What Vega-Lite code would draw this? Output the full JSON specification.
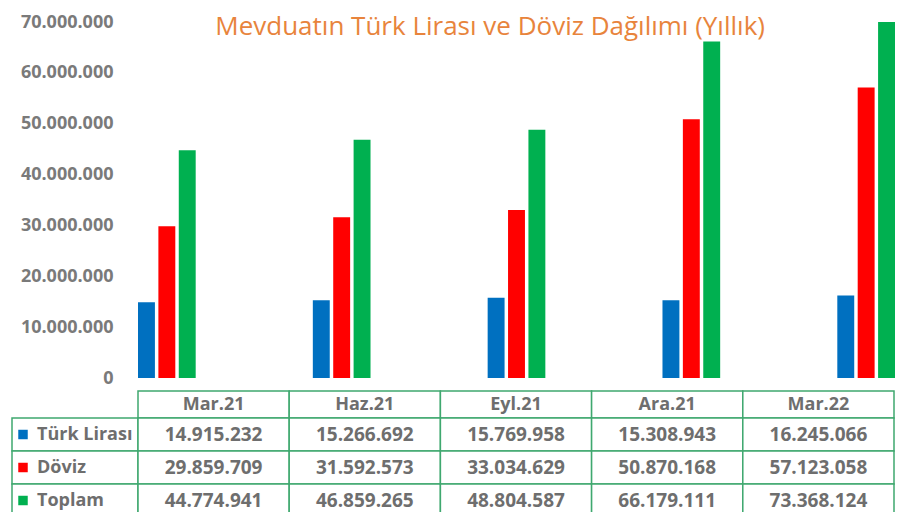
{
  "$schema": "https://vega.github.io/schema/vega-lite/v6.json",
  "padding": {"left": 11, "top": 13, "right": 0, "bottom": 0},
  "config": {
    "locale": {"number": {"decimal": ",", "thousands": ".", "grouping": [3], "currency": ["", " TL"]}},
    "view": {"stroke": null},
    "font": "Open Sans"
  },
  "title": {
    "text": "Mevduatın Türk Lirası ve Döviz Dağılımı (Yıllık)",
    "anchor": "middle",
    "offset": -27,
    "dx": 37,
    "fontSize": 26,
    "fontWeight": "normal",
    "font": "Open Sans",
    "color": "#e8843c"
  },
  "datasets": {
    "deposits": [
      {"donem": "Mar.21", "tur": "Türk Lirası", "deger": 14915232},
      {"donem": "Mar.21", "tur": "Döviz", "deger": 29859709},
      {"donem": "Mar.21", "tur": "Toplam", "deger": 44774941},
      {"donem": "Haz.21", "tur": "Türk Lirası", "deger": 15266692},
      {"donem": "Haz.21", "tur": "Döviz", "deger": 31592573},
      {"donem": "Haz.21", "tur": "Toplam", "deger": 46859265},
      {"donem": "Eyl.21", "tur": "Türk Lirası", "deger": 15769958},
      {"donem": "Eyl.21", "tur": "Döviz", "deger": 33034629},
      {"donem": "Eyl.21", "tur": "Toplam", "deger": 48804587},
      {"donem": "Ara.21", "tur": "Türk Lirası", "deger": 15308943},
      {"donem": "Ara.21", "tur": "Döviz", "deger": 50870168},
      {"donem": "Ara.21", "tur": "Toplam", "deger": 66179111},
      {"donem": "Mar.22", "tur": "Türk Lirası", "deger": 16245066},
      {"donem": "Mar.22", "tur": "Döviz", "deger": 57123058},
      {"donem": "Mar.22", "tur": "Toplam", "deger": 73368124}
    ],
    "spacer": [{"bos": ""}]
  },
  "bounds": "flush",
  "columns": 2,
  "spacing": {"row": 0, "column": 0},
  "concat": [
    {
      "width": 126,
      "height": 369,
      "data": {"name": "spacer"},
      "mark": {"type": "text"},
      "encoding": {"text": {"field": "bos"}}
    },
    {
      "width": 757,
      "height": 356,
      "data": {"name": "deposits"},
      "mark": {"type": "bar", "clip": true},
      "encoding": {
        "x": {
          "field": "donem",
          "type": "nominal",
          "sort": ["Mar.21", "Haz.21", "Eyl.21", "Ara.21", "Mar.22"],
          "scale": {"paddingInner": 0.67, "paddingOuter": 0},
          "axis": null
        },
        "xOffset": {
          "field": "tur",
          "type": "nominal",
          "sort": ["Türk Lirası", "Döviz", "Toplam"],
          "scale": {"paddingInner": 0.17, "paddingOuter": 0}
        },
        "y": {
          "field": "deger",
          "type": "quantitative",
          "scale": {"domain": [0, 70000000], "nice": false},
          "axis": {
            "title": null,
            "values": [0, 10000000, 20000000, 30000000, 40000000, 50000000, 60000000, 70000000],
            "format": ",.0f",
            "grid": false,
            "domain": false,
            "ticks": false,
            "labelPadding": 25,
            "labelFont": "Open Sans",
            "labelFontWeight": "bold",
            "labelFontSize": 18,
            "labelColor": "#7a7a7a"
          }
        },
        "color": {
          "field": "tur",
          "type": "nominal",
          "scale": {"domain": ["Türk Lirası", "Döviz", "Toplam"], "range": ["#0070c0", "#ff0000", "#00b050"]},
          "legend": null
        }
      }
    },
    {
      "width": 126,
      "height": 27,
      "data": {"name": "spacer"},
      "mark": {"type": "text"},
      "encoding": {"text": {"field": "bos"}}
    },
    {
      "width": 756,
      "height": 27,
      "data": {"name": "deposits"},
      "transform": [{"filter": "datum.tur === 'Toplam'"}],
      "encoding": {
        "x": {
          "field": "donem",
          "type": "nominal",
          "sort": ["Mar.21", "Haz.21", "Eyl.21", "Ara.21", "Mar.22"],
          "scale": {"paddingInner": 0, "paddingOuter": 0},
          "axis": null
        }
      },
      "layer": [
        {"mark": {"type": "rect", "fill": "white", "stroke": "#3fa86f", "strokeWidth": 1.5}},
        {
          "mark": {"type": "text", "fontSize": 18, "fontWeight": "bold", "color": "#6e6e6e", "font": "Open Sans"},
          "encoding": {"text": {"field": "donem"}}
        }
      ]
    },
    {
      "width": 126,
      "height": 99,
      "data": {"name": "deposits"},
      "transform": [{"filter": "datum.donem === 'Mar.21'"}],
      "encoding": {
        "y": {
          "field": "tur",
          "type": "nominal",
          "sort": ["Türk Lirası", "Döviz", "Toplam"],
          "scale": {"paddingInner": 0, "paddingOuter": 0},
          "axis": null
        }
      },
      "layer": [
        {"mark": {"type": "rect", "fill": "white", "stroke": "#3fa86f", "strokeWidth": 1.5}},
        {
          "mark": {"type": "square", "size": 90, "opacity": 1, "xOffset": -52},
          "encoding": {
            "color": {
              "field": "tur",
              "type": "nominal",
              "scale": {"domain": ["Türk Lirası", "Döviz", "Toplam"], "range": ["#0070c0", "#ff0000", "#00b050"]},
              "legend": null
            }
          }
        },
        {
          "mark": {"type": "text", "fontSize": 18, "fontWeight": "bold", "color": "#6e6e6e", "font": "Open Sans", "align": "left", "dx": -38},
          "encoding": {"text": {"field": "tur"}}
        }
      ]
    },
    {
      "width": 756,
      "height": 99,
      "data": {"name": "deposits"},
      "encoding": {
        "x": {
          "field": "donem",
          "type": "nominal",
          "sort": ["Mar.21", "Haz.21", "Eyl.21", "Ara.21", "Mar.22"],
          "scale": {"paddingInner": 0, "paddingOuter": 0},
          "axis": null
        },
        "y": {
          "field": "tur",
          "type": "nominal",
          "sort": ["Türk Lirası", "Döviz", "Toplam"],
          "scale": {"paddingInner": 0, "paddingOuter": 0},
          "axis": null
        }
      },
      "layer": [
        {"mark": {"type": "rect", "fill": "white", "stroke": "#3fa86f", "strokeWidth": 1.5}},
        {
          "mark": {"type": "text", "fontSize": 19, "fontWeight": "bold", "color": "#6e6e6e", "font": "Open Sans"},
          "encoding": {"text": {"field": "deger", "type": "quantitative", "format": ",.0f"}}
        }
      ]
    }
  ]
}
